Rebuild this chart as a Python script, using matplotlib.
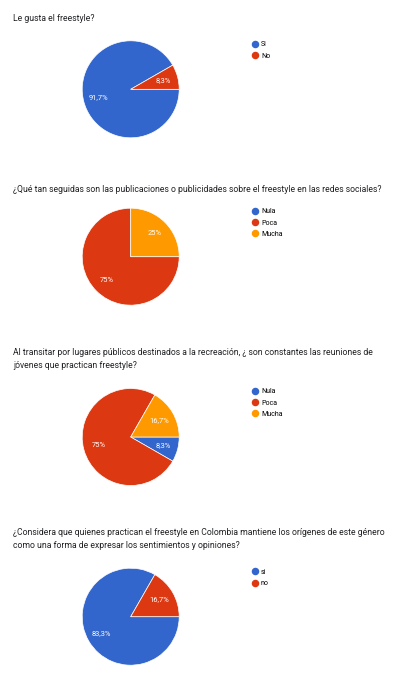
import matplotlib.pyplot as plt
from matplotlib.lines import Line2D

plt.rcParams['font.family'] = ['Roboto', 'DejaVu Sans']

W, H = 397, 684

blue = "#3366cc"
red = "#dc3912"
orange = "#ff9900"

# question 1
q1_title = "Le gusta el freestyle?"
q1_labels = ["Si", "No"]
q1_values = [91.7, 8.3]
q1_colors = [blue, red]

# question 2
q2_title = "¿Qué tan seguidas son las publicaciones o publicidades sobre el freestyle en las redes sociales?"
q2_labels = ["Nula", "Poca", "Mucha"]
q2_values = [0, 75, 25]
q2_colors = [blue, red, orange]

# question 3
q3_title = ("Al transitar por lugares públicos destinados a la recreación, ¿ son constantes las reuniones de\n"
            "jóvenes que practican freestyle?")
q3_labels = ["Nula", "Poca", "Mucha"]
q3_values = [8.3, 75, 16.7]
q3_colors = [blue, red, orange]

# question 4
q4_title = ("¿Considera que quienes practican el freestyle en Colombia mantiene los orígenes de este género\n"
            "como una forma de expresar los sentimientos y opiniones?")
q4_labels = ["si", "no"]
q4_values = [83.3, 16.7]
q4_colors = [blue, red]

fig = plt.figure(figsize=(W / 100, H / 100), dpi=100)
fig.patch.set_facecolor("white")


def pct_fmt(p):
    if p < 0.5:
        return ""
    s = f"{p:.1f}".rstrip("0").rstrip(".")
    return s.replace(".", ",") + "%"


def draw_block(title, base_y, labels, values, colors, cy, leg_y):
    r = 48.5
    cx = 130.7
    # one fig.text per title line, placed on its baseline
    for i, line in enumerate(title.split("\n")):
        fig.text(13 / W, 1 - (base_y + i * 12.8) / H, line, fontsize=6.25,
                 color="#202124", ha="left", va="baseline")
    ax = fig.add_axes([(cx - r) / W, 1 - (cy + r) / H, 2 * r / W, 2 * r / H])
    ax.pie(values, colors=colors, startangle=0, counterclock=False,
           autopct=pct_fmt, pctdistance=0.69, radius=1,
           wedgeprops=dict(edgecolor="white", linewidth=0.5),
           textprops=dict(color="white", fontsize=5.4))
    ax.set_xlim(-1, 1)
    ax.set_ylim(-1, 1)
    ax.set_aspect("equal")
    ax.axis("off")
    handles = [Line2D([], [], marker="o", linestyle="none", markersize=4.4,
                      markerfacecolor=c, markeredgecolor=c) for c in colors]
    fig.legend(handles, labels, loc="upper left",
               bbox_to_anchor=(251.5 / W, 1 - leg_y / H),
               bbox_transform=fig.transFigure, frameon=False,
               borderpad=0, borderaxespad=0, handlelength=0.9,
               handletextpad=0.45, labelspacing=0.62, fontsize=5.0)


draw_block(q1_title, 21.3, q1_labels, q1_values, q1_colors, 89.3, 41.2)
draw_block(q2_title, 192.3, q2_labels, q2_values, q2_colors, 256.7, 208.3)
draw_block(q3_title, 355.3, q3_labels, q3_values, q3_colors, 437.0, 388.3)
draw_block(q4_title, 535.3, q4_labels, q4_values, q4_colors, 616.7, 568.8)

fig.savefig("out.png", dpi=100, facecolor="white")
